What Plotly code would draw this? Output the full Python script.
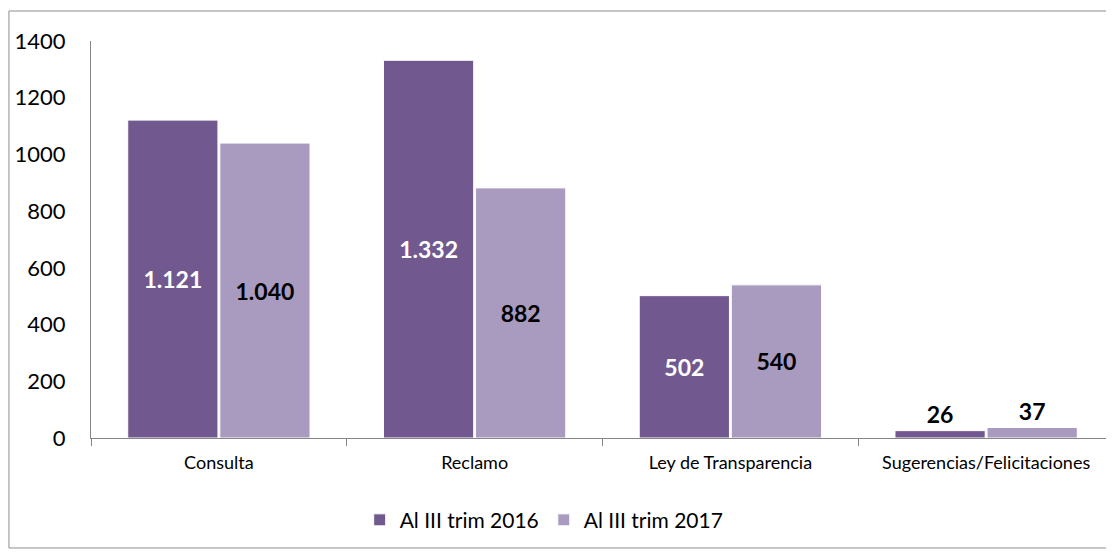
import plotly.graph_objects as go

categorias = ["Consulta", "Reclamo", "Ley de Transparencia", "Sugerencias/Felicitaciones"]
serie_2016 = [1121, 1332, 502, 26]
serie_2017 = [1040, 882, 540, 37]
etiquetas_2016 = ["1.121", "1.332", "502", "26"]
etiquetas_2017 = ["1.040", "882", "540", "37"]
nombres = ["Al III trim 2016", "Al III trim 2017"]
ticks_y = [0, 200, 400, 600, 800, 1000, 1200, 1400]

FONT = "Lato, Open Sans, sans-serif"


def posiciones(vals):
    # small values get their label above the bar
    return ["outside" if v < 100 else "inside" for v in vals]


fig = go.Figure()

fig.add_trace(go.Bar(
    x=categorias, y=serie_2016, name=nombres[0],
    marker=dict(color="#715990", line=dict(color="#ffffff", width=1)),
    text=["<b>%s</b>" % t for t in etiquetas_2016], textposition=posiciones(serie_2016),
    insidetextanchor="middle",
    textfont=dict(family=FONT, size=23, color=["white", "white", "white", "black"]),
    cliponaxis=False,
))
fig.add_trace(go.Bar(
    x=categorias, y=serie_2017, name=nombres[1],
    marker=dict(color="#A99ABF", line=dict(color="#ffffff", width=1)),
    text=["<b>%s</b>" % t for t in etiquetas_2017], textposition=posiciones(serie_2017),
    insidetextanchor="middle",
    textfont=dict(family=FONT, size=23, color="black"),
    cliponaxis=False,
))

fig.update_traces(textangle=0, constraintext="none")

# page body adds 8px margin, so the figure is a bit smaller than the window
fig.update_layout(
    width=1106, height=547,
    margin=dict(l=83, r=0, t=33, b=117),
    paper_bgcolor="white", plot_bgcolor="white",
    barmode="group", bargap=0.28, bargroupgap=0.02,
    font=dict(family=FONT, color="black"),
    legend=dict(orientation="h", x=0.443, xanchor="center", y=-0.207, yanchor="middle",
                font=dict(size=21), itemwidth=30, traceorder="normal"),
    showlegend=True,
)

fig.update_xaxes(
    showline=True, linecolor="#868686", linewidth=1,
    ticks="outside", tickson="boundaries", ticklen=7, tickcolor="#868686",
    tickfont=dict(size=18), ticklabelstandoff=8, showgrid=False,
)
fig.update_yaxes(
    range=[0, 1400], tickvals=ticks_y, showgrid=False, zeroline=False,
    showline=True, linecolor="#868686", linewidth=1,
    tickfont=dict(size=22), ticklabelstandoff=20, ticks="",
)

fig.add_shape(type="rect", xref="paper", yref="paper",
              x0=-0.0802, x1=0.998, y0=-0.277, y1=1.0756,
              line=dict(color="#8c8c8c", width=1), fillcolor="rgba(0,0,0,0)")

fig.write_html("out.html")
